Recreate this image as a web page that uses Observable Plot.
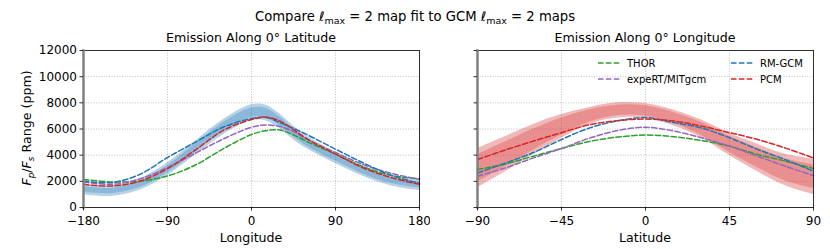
<!DOCTYPE html>
<html><head><meta charset="utf-8">
<script src="https://cdn.jsdelivr.net/npm/d3@7"></script>
<script src="https://cdn.jsdelivr.net/npm/@observablehq/plot@0.6"></script>
<style>
body{margin:0;background:#fff;font-family:"DejaVu Sans",sans-serif;}
#wrap{position:relative;width:830px;height:249px;overflow:hidden;}
#wrap > svg{position:absolute;top:0;}
</style></head><body><div id="wrap"></div>
<script>
// ---- data ----
const lon = [-180,-150,-120,-90,-60,-30,0,15,30,45,60,90,120,150,180];
const thorLon   = [2150,1950,2020,2410,3250,4500,5580,5870,5920,5550,5020,4080,3100,2450,2200];
const expertLon = [1950,1770,2180,3050,4150,5250,6130,6310,6200,5800,5200,4200,3280,2600,2150];
const rmgcmLon  = [2030,1900,2520,3820,5000,6150,6800,6900,6500,6050,5550,4460,3400,2450,1850];
const pcmLon    = [1770,1640,2000,2970,4400,5900,6720,6900,6620,5950,5220,4080,3020,2280,1770];
const fitLon    = [1380,1250,1750,2920,4550,6150,7250,7230,6600,5700,4950,3800,2780,2050,1700];
const fitLonInner = [220,200,230,280,320,350,350,350,330,300,280,250,230,220,220];
const fitLonOuter = [420,400,430,480,540,580,600,600,560,520,480,440,420,400,400];

const lat = [-90,-75,-60,-45,-30,-15,0,15,30,45,60,75,90];
const thorLat   = [2900,3330,3920,4510,5050,5380,5540,5410,5120,4690,4050,3540,2970];
const expertLat = [2380,3030,3790,4510,5300,5880,6130,5850,5330,4690,3920,3150,2440];
const rmgcmLat  = [2640,3400,4200,5200,6080,6620,6870,6490,6080,5330,4440,3650,2770];
const pcmLat    = [3670,4400,5080,5720,6330,6640,6760,6620,6220,5720,5200,4540,3790];
const fitLat    = [3000,4080,5200,6200,7000,7420,7380,6850,6000,4820,3790,2870,2350];
const fitLatInner = [1050,950,800,650,480,400,390,420,500,620,750,850,900];
const fitLatOuter = [1500,1350,1150,900,650,580,570,600,680,850,1050,1200,1350];

const lonTicks = [-180,-90,0,90,180];
const latTicks = [-90,-45,0,45,90];
const yTicks = [0,2000,4000,6000,8000,10000,12000];

const models = ["THOR","expeRT/MITgcm","RM-GCM","PCM"];
const colors = ["#2ca02c","#9467bd","#1f77b4","#d62728"];

// ---- helpers ----
const fmt = d => d < 0 ? "\u2212" + Math.abs(d) : String(d);
const curve = "catmull-rom";
const dash = "5.5,2.4";

function panel({xs, series, fit, inner, outer, bandColor, xDomain, xTicks, showYLabels, width, ml, mr}) {
  const band = xs.map((x,i) => ({x, lo2: fit[i]-outer[i], hi2: fit[i]+outer[i], lo1: fit[i]-inner[i], hi1: fit[i]+inner[i]}));
  const lines = [];
  series.forEach((s, k) => xs.forEach((x,i) => lines.push({x, y: s[i], model: models[k]})));
  const svg = Plot.plot({
    width, height: 249, marginLeft: ml, marginRight: mr, marginTop: 50, marginBottom: 42,
    style: {fontFamily: "DejaVu Sans", fontSize: "12px", background: "transparent", color: "black"},
    x: {domain: xDomain},
    y: {domain: [0, 12000]},
    color: {domain: models, range: colors},
    marks: [
      Plot.gridX({ticks: xTicks, stroke: "#b0b0b0", strokeOpacity: 1, strokeWidth: 0.8, strokeDasharray: "1,1.6"}),
      Plot.gridY({ticks: yTicks, stroke: "#b0b0b0", strokeOpacity: 1, strokeWidth: 0.8, strokeDasharray: "1,1.6"}),
      Plot.areaY(band, {x: "x", y1: "lo2", y2: "hi2", fill: bandColor, fillOpacity: 0.33, curve}),
      Plot.areaY(band, {x: "x", y1: "lo1", y2: "hi1", fill: bandColor, fillOpacity: 0.28, curve}),
      Plot.line(lines, {x: "x", y: "y", z: "model", stroke: "model", strokeWidth: 1.5, strokeDasharray: dash, curve}),
      Plot.frame({stroke: "black", strokeWidth: 0.8}),
      Plot.frame({anchor: "left", stroke: "#808080", strokeWidth: 2.5}),
      Plot.axisX({ticks: xTicks, tickFormat: fmt, tickSize: 3.5, tickPadding: 5, fontSize: 12, label: null, strokeWidth: 0.8}),
      Plot.axisY({ticks: yTicks, tickFormat: showYLabels ? (d => String(d)) : (() => ""), tickSize: 3.5, tickPadding: 3, fontSize: 12, label: null, strokeWidth: 0.8})
    ]
  });
  svg.querySelectorAll("text").forEach(t => { t.style.fontSize = "12px"; t.style.fontFamily = "DejaVu Sans"; });
  return svg;
}

const wrap = document.getElementById("wrap");
const left = panel({xs: lon, series: [thorLon, expertLon, rmgcmLon, pcmLon], fit: fitLon, inner: fitLonInner, outer: fitLonOuter,
  bandColor: "#1f77b4", xDomain: [-180,180], xTicks: lonTicks, showYLabels: true, width: 430, ml: 83, mr: 11});
left.style.left = "0px";
wrap.appendChild(left);
const right = panel({xs: lat, series: [thorLat, expertLat, rmgcmLat, pcmLat], fit: fitLat, inner: fitLatInner, outer: fitLatOuter,
  bandColor: "#d62728", xDomain: [-90,90], xTicks: latTicks, showYLabels: false, width: 410, ml: 57, mr: 17});
right.style.left = "420px";
wrap.appendChild(right);

// ---- text overlay (titles, labels, legend) ----
const NS = "http://www.w3.org/2000/svg";
const ov = document.createElementNS(NS, "svg");
ov.setAttribute("width", 830); ov.setAttribute("height", 249);
ov.style.left = "0px"; ov.style.pointerEvents = "none";
ov.setAttribute("font-family", "DejaVu Sans");
ov.innerHTML = `
<text x="415" y="21" text-anchor="middle" font-size="13.2">Compare <tspan font-style="italic">ℓ</tspan><tspan font-size="9.5" dy="2.5">max</tspan><tspan dy="-2.5"> = 2 map fit to GCM </tspan><tspan font-style="italic">ℓ</tspan><tspan font-size="9.5" dy="2.5">max</tspan><tspan dy="-2.5"> = 2 maps</tspan></text>
<text x="251" y="42" text-anchor="middle" font-size="12.6">Emission Along 0° Latitude</text>
<text x="645" y="42" text-anchor="middle" font-size="12.6">Emission Along 0° Longitude</text>
<text x="251" y="242" text-anchor="middle" font-size="12.6">Longitude</text>
<text x="645" y="242" text-anchor="middle" font-size="12.6">Latitude</text>
<text transform="translate(31,128) rotate(-90)" text-anchor="middle" font-size="12.6"><tspan font-style="italic">F</tspan><tspan font-size="9" font-style="italic" dy="2.5">p</tspan><tspan dy="-2.5">/</tspan><tspan font-style="italic">F</tspan><tspan font-size="9" font-style="italic" dy="2.5">s</tspan><tspan dy="-2.5"> Range (ppm)</tspan></text>
`;
const legendPos = [[598,63],[598,79],[731,63],[731,79]];
models.forEach((m, i) => {
  const [lx, ly] = legendPos[i];
  const l = document.createElementNS(NS, "line");
  l.setAttribute("x1", lx); l.setAttribute("x2", lx + 22); l.setAttribute("y1", ly); l.setAttribute("y2", ly);
  l.setAttribute("stroke", colors[i]); l.setAttribute("stroke-width", 1.5); l.setAttribute("stroke-dasharray", dash);
  ov.appendChild(l);
  const t = document.createElementNS(NS, "text");
  t.setAttribute("x", lx + 29); t.setAttribute("y", ly + 3.6); t.setAttribute("font-size", "10");
  t.textContent = m;
  ov.appendChild(t);
});
wrap.appendChild(ov);
</script>
</body></html>
